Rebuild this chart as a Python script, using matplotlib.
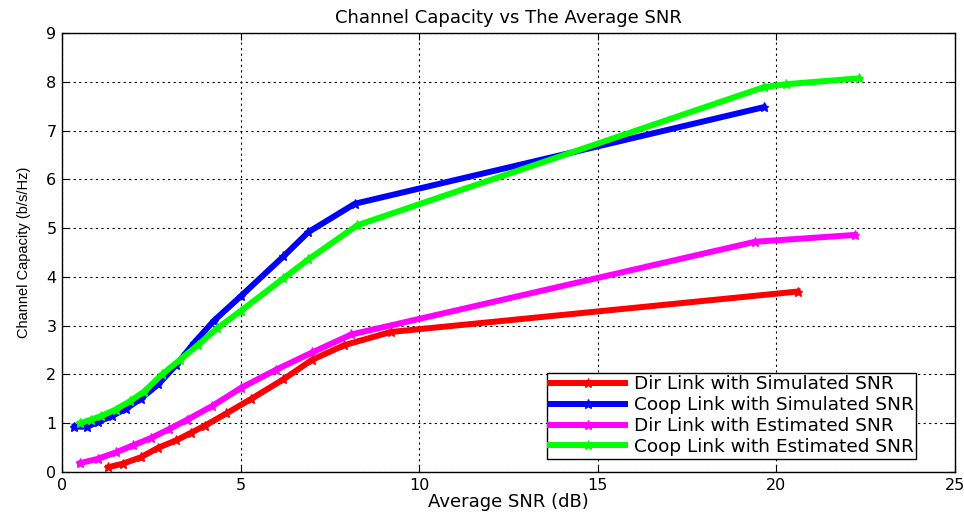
import matplotlib
matplotlib.use("Agg")
import matplotlib.pyplot as plt

plt.rcParams['font.family'] = ['DejaVu Sans']

# Direct link, simulated SNR
dir_sim_snr = [1.3, 1.7, 2.2, 2.7, 3.2, 3.6, 4.0, 4.6, 5.3, 6.2, 7.0, 7.9, 9.2, 20.6]
dir_sim_cap = [0.1, 0.17, 0.3, 0.5, 0.65, 0.8, 0.95, 1.2, 1.5, 1.9, 2.3, 2.6, 2.87, 3.7]

# Cooperative link, simulated SNR
coop_sim_snr = [0.35, 0.7, 1.0, 1.4, 1.8, 2.2, 2.7, 3.2, 3.7, 4.25, 5.0, 6.2, 6.9, 8.2, 19.65]
coop_sim_cap = [0.93, 0.93, 1.02, 1.15, 1.3, 1.5, 1.8, 2.2, 2.65, 3.1, 3.6, 4.42, 4.92, 5.5, 7.48]

# Direct link, estimated SNR
dir_est_snr = [0.5, 1.0, 1.5, 2.0, 2.5, 3.0, 3.5, 4.2, 5.0, 6.0, 7.0, 8.1, 19.4, 22.2]
dir_est_cap = [0.18, 0.27, 0.4, 0.55, 0.7, 0.88, 1.07, 1.35, 1.72, 2.1, 2.45, 2.82, 4.72, 4.86]

# Cooperative link, estimated SNR
coop_est_snr = [0.5, 0.8, 1.1, 1.5, 1.9, 2.3, 2.8, 3.3, 3.8, 4.35, 5.0, 6.2, 6.9, 8.27, 19.65, 20.26, 22.3]
coop_est_cap = [1.0, 1.07, 1.15, 1.28, 1.45, 1.65, 2.0, 2.3, 2.6, 2.95, 3.3, 3.97, 4.36, 5.06, 7.89, 7.95, 8.07]

fig = plt.figure(figsize=(9.64, 5.13), dpi=100)
ax = fig.add_axes([0.0643, 0.0799, 0.9264, 0.8558])

style = dict(linewidth=4.3, marker='*', markersize=6.5)
ax.plot(dir_sim_snr, dir_sim_cap, color='#ff0000', label='Dir Link with Simulated SNR', **style)
ax.plot(coop_sim_snr, coop_sim_cap, color='#0000ff', label='Coop Link with Simulated SNR', **style)
ax.plot(dir_est_snr, dir_est_cap, color='#ff00ff', label='Dir Link with Estimated SNR', **style)
ax.plot(coop_est_snr, coop_est_cap, color='#00ff00', label='Coop Link with Estimated SNR', **style)

ax.set_xlim(0, 25)
ax.set_ylim(0, 9)
ax.set_xticks(range(0, 26, 5))
ax.set_yticks(range(0, 10))
ax.grid(True, color='black', linestyle=(0, (2, 3)), linewidth=0.8)
ax.tick_params(direction='in', top=True, right=True, labelsize=11.5, length=5, pad=4)
for s in ax.spines.values():
    s.set_linewidth(1.0)

ax.set_title('Channel Capacity vs The Average SNR', fontsize=13, pad=7)
ax.set_xlabel('Average SNR (dB)', fontsize=13, labelpad=0)
ax.set_ylabel('Channel Capacity (b/s/Hz)', fontsize=10.5, family='Liberation Sans', labelpad=11)

leg = ax.legend(loc='lower right', bbox_to_anchor=(0.963, 0.018), fontsize=13.3,
                fancybox=False, framealpha=1, edgecolor='black',
                handlelength=4.1, handletextpad=0.45, borderpad=0.15,
                borderaxespad=0.3, labelspacing=0.15)
leg.get_frame().set_linewidth(1.0)

fig.savefig('out.png', dpi=100)
